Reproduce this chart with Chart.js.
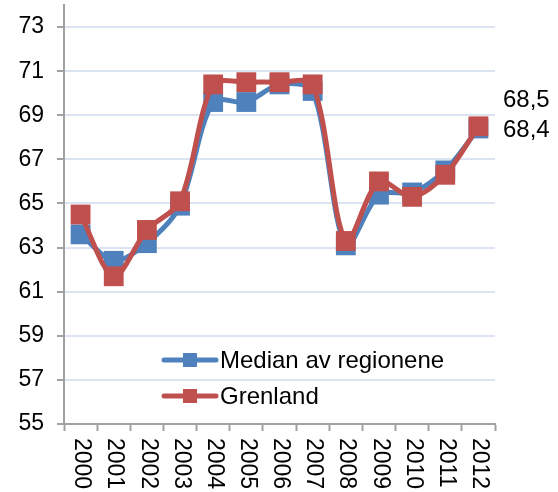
<!DOCTYPE html>
<html>
<head>
<meta charset="utf-8">
<script src="https://cdn.jsdelivr.net/npm/chart.js@4/dist/chart.umd.min.js"></script>
<style>
  html, body { margin: 0; padding: 0; background: #fff; }
  #chart { display: block; }
</style>
</head>
<body>
<canvas id="chart" width="558" height="492"></canvas>
<script>
const years = ['2000', '2001', '2002', '2003', '2004', '2005', '2006', '2007', '2008', '2009', '2010', '2011', '2012'];
const median = [63.6, 62.4, 63.2, 64.9, 69.6, 69.6, 70.4, 70.1, 63.1, 65.4, 65.5, 66.5, 68.4];
const grenland = [64.5, 61.7, 63.8, 65.1, 70.4, 70.5, 70.5, 70.4, 63.3, 66.0, 65.3, 66.3, 68.5];
const yTicks = [55, 57, 59, 61, 63, 65, 67, 69, 71, 73];
const seriesNames = ['Median av regionene', 'Grenland'];

const BLUE = '#4f81bd';
const RED = '#c0504d';
const AXIS = '#a0a0a0';
const GRID = '#dbe4f0';
const FONT = '"Liberation Sans", Arial, sans-serif';

const fmt = v => v.toFixed(1).replace('.', ',');

// year labels run top-to-bottom under the axis
const xLabels = {
    id: 'xLabels',
    afterDraw(chart) {
        const { ctx, scales: { x } } = chart;
        ctx.save();
        ctx.fillStyle = '#000';
        ctx.font = '23px ' + FONT;
        ctx.textAlign = 'left';
        ctx.textBaseline = 'middle';
        years.forEach((label, i) => {
            ctx.save();
            ctx.translate(x.getPixelForValue(i) + 1, x.top + 14);
            ctx.rotate(Math.PI / 2);
            ctx.fillText(label, 0, 0);
            ctx.restore();
        });
        ctx.restore();
    }
};

// final values printed right of the plot
const endLabels = {
    id: 'endLabels',
    afterDraw(chart) {
        const { ctx, chartArea, scales: { y } } = chart;
        const last = [median[median.length - 1], grenland[grenland.length - 1]];
        const lo = Math.min(...last);
        const hi = Math.max(...last);
        const yLo = y.getPixelForValue(lo) + 2;
        ctx.save();
        ctx.fillStyle = '#000';
        ctx.font = '24px ' + FONT;
        ctx.textAlign = 'left';
        ctx.textBaseline = 'middle';
        ctx.fillText(fmt(hi), chartArea.right + 8, yLo - 30);
        ctx.fillText(fmt(lo), chartArea.right + 8, yLo);
        ctx.restore();
    }
};

// legend sits inside the plot, no box
const innerLegend = {
    id: 'innerLegend',
    afterDraw(chart) {
        const { ctx } = chart;
        const colors = [BLUE, RED];
        ctx.save();
        ctx.font = '24px ' + FONT;
        ctx.textBaseline = 'middle';
        ctx.textAlign = 'left';
        seriesNames.forEach((name, i) => {
            const ly = 360 + i * 36;
            ctx.strokeStyle = colors[i];
            ctx.lineWidth = 5;
            ctx.lineCap = 'round';
            ctx.beginPath();
            ctx.moveTo(164, ly);
            ctx.lineTo(216, ly);
            ctx.stroke();
            ctx.fillStyle = colors[i];
            ctx.fillRect(183, ly - 7, 14, 14);
            ctx.fillStyle = '#000';
            ctx.fillText(name, 220, ly + 1);
        });
        ctx.restore();
    }
};

new Chart(document.getElementById('chart'), {
    type: 'line',
    data: {
        labels: years,
        datasets: [{
            label: seriesNames[0],
            data: median,
            borderColor: BLUE,
            backgroundColor: BLUE,
            borderWidth: 5,
            pointStyle: 'rect',
            pointRadius: 14,
            pointBorderWidth: 0,
            tension: 0.3,
            order: 1
        }, {
            label: seriesNames[1],
            data: grenland,
            borderColor: RED,
            backgroundColor: RED,
            borderWidth: 5,
            pointStyle: 'rect',
            pointRadius: 14,
            pointBorderWidth: 0,
            tension: 0.3,
            order: 0
        }]
    },
    options: {
        responsive: false,
        animation: false,
        events: [],
        layout: { autoPadding: false, padding: { left: 0, right: 63, top: 5, bottom: 0 } },
        plugins: {
            legend: { display: false },
            tooltip: { enabled: false }
        },
        scales: {
            x: {
                offset: true,
                grid: {
                    offset: true,
                    drawOnChartArea: false,
                    drawTicks: true,
                    tickLength: 7,
                    tickColor: AXIS,
                    tickWidth: 2
                },
                border: { color: AXIS, width: 2 },
                ticks: { display: false },
                afterFit(scale) {
                    scale.height = 68;
                    scale.paddingLeft = 0;
                    scale.paddingRight = 0;
                }
            },
            y: {
                min: 55,
                max: 74,
                afterBuildTicks(scale) {
                    scale.ticks = yTicks.map(v => ({ value: v }));
                },
                grid: {
                    color: GRID,
                    lineWidth: 2,
                    drawTicks: true,
                    tickLength: 7,
                    tickColor: AXIS,
                    tickWidth: 2
                },
                border: { color: AXIS, width: 2 },
                ticks: {
                    color: '#000',
                    padding: 13,
                    font: { family: FONT, size: 23 }
                },
                afterFit(scale) {
                    scale.width = 64;
                    scale.paddingTop = 0;
                    scale.paddingBottom = 0;
                }
            }
        }
    },
    plugins: [xLabels, endLabels, innerLegend]
});
</script>
</body>
</html>
